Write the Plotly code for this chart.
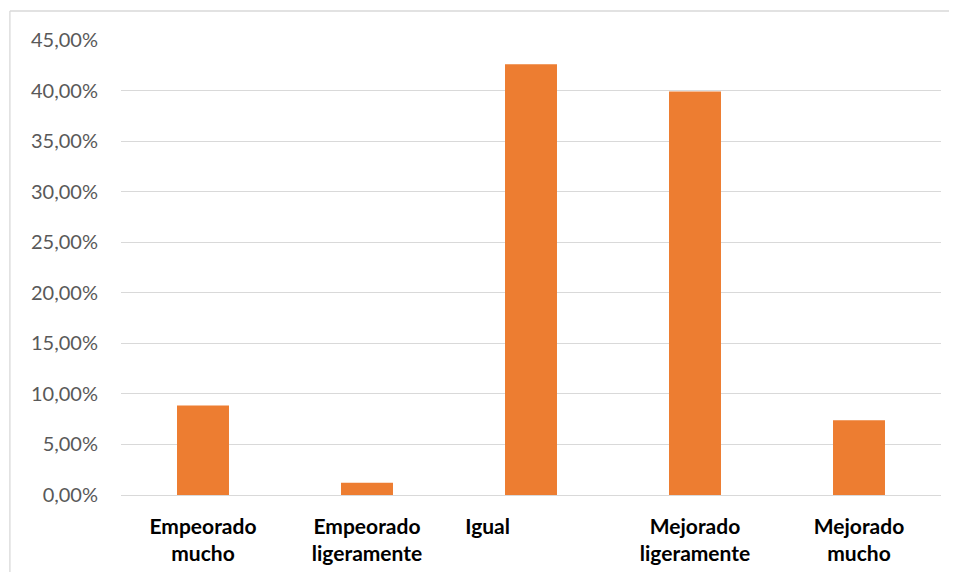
import plotly.graph_objects as go

categories = ["Empeorado mucho", "Empeorado ligeramente", "Igual", "Mejorado ligeramente", "Mejorado mucho"]
category_labels = ["Empeorado<br>mucho", "Empeorado<br>ligeramente", "Igual" + "\u00a0" * 17,
                   "Mejorado<br>ligeramente", "Mejorado<br>mucho"]
values = [8.86, 1.2, 42.6, 39.9, 7.4]
y_tick_vals = [0, 5, 10, 15, 20, 25, 30, 35, 40, 45]
y_tick_text = ["0,00%", "5,00%", "10,00%", "15,00%", "20,00%", "25,00%",
               "30,00%", "35,00%", "40,00%", "45,00%"]

border = dict(color="#d9d9d9", width=1.3)
fig = go.Figure(go.Bar(x=categories, y=values, marker=dict(color="#ED7D31", line=dict(width=0))))

fig.update_layout(
    width=941, height=564,
    margin=dict(l=113, r=8, t=32, b=77),
    paper_bgcolor="white", plot_bgcolor="white",
    bargap=0.683,
    showlegend=False,
    font=dict(family="Lato, Carlito, Calibri, sans-serif"),
    shapes=[
        dict(type="line", xref="paper", yref="paper", x0=-0.1355, x1=1.05, y0=1.0637, y1=1.0637,
             line=border, layer="below"),
        dict(type="line", xref="paper", yref="paper", x0=-0.1355, x1=-0.1355, y0=-0.3, y1=1.0637,
             line=border, layer="below"),
    ],
)
fig.update_xaxes(
    tickmode="array", tickvals=categories, ticktext=category_labels,
    tickfont=dict(size=21, color="#000000", family="Lato, sans-serif", weight="bold"),
    showgrid=False, showline=False, zeroline=False, ticks="",
    ticklabelstandoff=17,
)
fig.update_yaxes(
    range=[0, 45], tickmode="array", tickvals=y_tick_vals, ticktext=y_tick_text,
    tickfont=dict(size=20, color="#595959", family="Lato, sans-serif"),
    showgrid=True, gridcolor="#d9d9d9", gridwidth=1,
    zeroline=True, zerolinecolor="#d9d9d9", zerolinewidth=1,
    showline=False, ticks="", ticklabelstandoff=22,
)

fig.write_html("out.html")
